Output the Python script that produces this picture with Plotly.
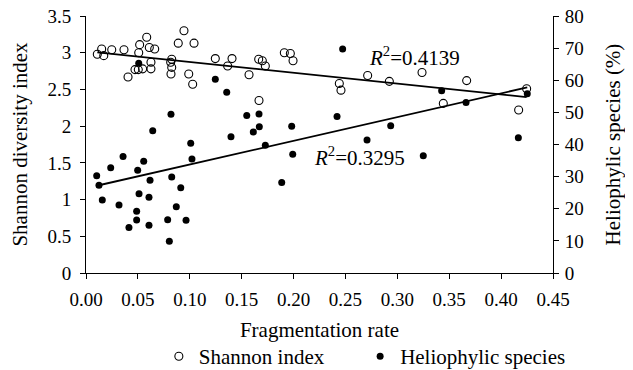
import plotly.graph_objects as go

# Shannon diversity index vs fragmentation rate
shannon_x = [0.0109, 0.0151, 0.0171, 0.0248, 0.0366, 0.0405, 0.0472, 0.0504, 0.0546, 0.0508,
             0.0517, 0.0585, 0.0610, 0.0662, 0.0626, 0.0626, 0.0816, 0.0826, 0.0826, 0.0819,
             0.0944, 0.0889, 0.1041, 0.0990, 0.1028, 0.1246, 0.1365, 0.1407, 0.1664, 0.1699,
             0.1728, 0.1571, 0.1911, 0.1969, 0.1995, 0.1667, 0.2441, 0.2457, 0.2714, 0.2923,
             0.3238, 0.3668, 0.3443, 0.4246, 0.4169]
shannon_y = [2.98, 3.05, 2.96, 3.04, 3.04, 2.67, 2.77, 2.77, 2.78, 3.00,
             3.11, 3.21, 3.07, 3.05, 2.87, 2.78, 2.87, 2.91, 2.80, 2.71,
             3.30, 3.13, 3.13, 2.71, 2.57, 2.92, 2.82, 2.92, 2.91, 2.89,
             2.82, 2.70, 3.00, 2.99, 2.89, 2.35, 2.58, 2.49, 2.69, 2.61,
             2.73, 2.62, 2.31, 2.51, 2.22]

# Heliophylic species (%) vs fragmentation rate
helio_x = [0.0508, 0.0643, 0.0819, 0.1009, 0.1246, 0.1356, 0.1397, 0.0103, 0.0125, 0.0157,
           0.0238, 0.0318, 0.0357, 0.0498, 0.0556, 0.0511, 0.0617, 0.0607, 0.0488, 0.0488,
           0.0414, 0.0607, 0.0826, 0.0913, 0.0870, 0.0787, 0.0964, 0.0803, 0.1021, 0.2473,
           0.1549, 0.1667, 0.1670, 0.1612, 0.1982, 0.2419, 0.2936, 0.2708, 0.1728, 0.1992,
           0.1886, 0.3427, 0.3662, 0.4252, 0.4166, 0.3250]
helio_y = [65.3, 44.3, 49.4, 40.4, 60.3, 56.3, 42.4, 30.3, 27.3, 22.7,
           32.8, 21.2, 36.3, 32.0, 34.8, 24.7, 28.9, 23.6, 19.2, 16.5,
           14.2, 14.9, 29.9, 26.5, 20.6, 16.6, 16.4, 9.9, 35.5, 69.7,
           49.0, 49.5, 45.5, 43.9, 45.7, 48.7, 45.8, 41.4, 39.8, 37.0,
           28.2, 56.7, 53.1, 55.8, 42.1, 36.5]

# Linear trend coefficients (as printed in the figure)
shannon_fit = (-1.47, 3.02)   # slope, intercept
helio_fit = (73.8, 26.4)
shannon_r2 = "0.4139"
helio_r2 = "0.3295"

x_ticks = [0.0, 0.05, 0.10, 0.15, 0.20, 0.25, 0.30, 0.35, 0.40, 0.45]

FONT = "Times New Roman, Liberation Serif, serif"

fig = go.Figure()

fig.add_trace(go.Scatter(
    x=shannon_x, y=shannon_y, mode="markers", name="Shannon index", legend="legend",
    marker=dict(symbol="circle-open", size=8, color="black", line=dict(width=1.1, color="black")),
))
fig.add_trace(go.Scatter(
    x=helio_x, y=helio_y, mode="markers", name="Heliophylic species", yaxis="y2", legend="legend2",
    marker=dict(symbol="circle", size=7, color="black"),
))

# trend lines
sx = [min(shannon_x), max(shannon_x)]
fig.add_trace(go.Scatter(
    x=sx, y=[shannon_fit[0] * v + shannon_fit[1] for v in sx], mode="lines",
    line=dict(color="black", width=1.8), showlegend=False, hoverinfo="skip",
))
hx = [min(helio_x), max(helio_x)]
fig.add_trace(go.Scatter(
    x=hx, y=[helio_fit[0] * v + helio_fit[1] for v in hx], mode="lines", yaxis="y2",
    line=dict(color="black", width=1.8), showlegend=False, hoverinfo="skip",
))

fig.add_annotation(x=0.2705, y=2.955, xref="x", yref="y", xanchor="left", yanchor="middle",
                   text="<i>R</i><sup>2</sup>=" + shannon_r2, showarrow=False,
                   font=dict(family=FONT, size=21, color="black"))
fig.add_annotation(x=0.2178, y=1.58, xref="x", yref="y", xanchor="left", yanchor="middle",
                   text="<i>R</i><sup>2</sup>=" + helio_r2, showarrow=False,
                   font=dict(family=FONT, size=21, color="black"))

axis_common = dict(showline=True, linecolor="black", linewidth=1, ticks="outside",
                   ticklen=5, tickcolor="black", showgrid=False, zeroline=False,
                   automargin=False, ticklabeloverflow="allow",
                   tickfont=dict(family=FONT, size=19, color="black"))

legend_common = dict(orientation="h", xanchor="left", y=-0.405, yanchor="bottom",
                     font=dict(family=FONT, size=21), itemwidth=30, bgcolor="rgba(0,0,0,0)")

# the page body adds an 8 px offset, so the figure is sized to fill the rest of the window
fig.update_layout(
    width=625, height=362,
    margin=dict(l=78, r=80, t=8, b=97, autoexpand=False),
    paper_bgcolor="white", plot_bgcolor="white",
    font=dict(family=FONT, size=19, color="black"),
    xaxis=dict(range=[0, 0.45], tickvals=x_ticks, tickformat=".2f", ticklabelstandoff=4,
               title=dict(text="Fragmentation rate", font=dict(family=FONT, size=21), standoff=13),
               **axis_common),
    yaxis=dict(range=[0, 3.5], dtick=0.5, ticklabelstandoff=5,
               title=dict(text="Shannon diversity index", font=dict(family=FONT, size=21), standoff=20),
               **axis_common),
    yaxis2=dict(range=[0, 80], dtick=10, overlaying="y", side="right", ticklabelstandoff=2,
                title=dict(text="Heliophylic species (%)", font=dict(family=FONT, size=21), standoff=22),
                **axis_common),
    legend=dict(x=0.156, **legend_common),
    legend2=dict(x=0.587, **legend_common),
    showlegend=True,
)

fig.write_html("out.html")
